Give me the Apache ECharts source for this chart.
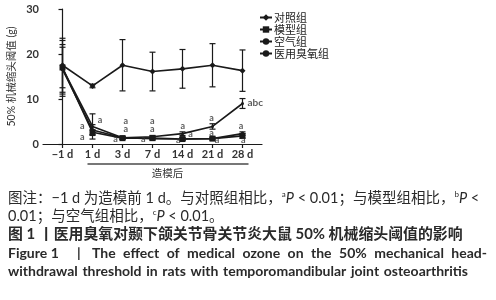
<!DOCTYPE html>
<html><head><meta charset="utf-8">
<script src="https://cdn.jsdelivr.net/npm/echarts@6/dist/echarts.min.js"></script>
<style>html,body{margin:0;padding:0;background:#fff}#c{width:496px;height:300px}</style>
</head><body><div id="c"></div>
<script>
// ---- data ----
const categories = ['\u22121 d', '1 d', '3 d', '7 d', '14 d', '21 d', '28 d'];
const seriesNames = ['对照组', '模型组', '空气组', '医用臭氧组'];
const control = [17.5, 12.9, 17.5, 16.1, 16.7, 17.5, 16.3];
const controlErr = [6.0, 0.4, 5.7, 4.3, 4.3, 4.8, 4.6];
const model = [17.0, 2.6, 1.3, 1.3, 1.1, 1.2, 1.8];
const modelErr = [4.5, 0.5, 0.3, 0.3, 0.3, 0.3, 0.5];
const air = [16.6, 3.1, 1.4, 1.2, 1.1, 1.2, 2.3];
const airErr = [5.5, 1.2, 0.3, 0.3, 0.3, 0.3, 0.4];
const ozone = [16.8, 3.9, 1.4, 1.6, 2.3, 3.9, 9.0];
const ozoneErr = [6.2, 2.8, 0.3, 0.3, 0.4, 0.6, 1.1];
const yTicks = [0, 10, 20, 30];
// significance letters: position in (category index, value) and text
const annotX = [0.66, 0.66, 1.25, 2.11, 2.11, 1.77, 2.99, 2.99, 2.69, 4.01, 4.27, 3.86, 4.97, 4.97, 5.15, 5.95, 6.03];
const annotY = [4.07, 1.49, 5.33, 5.18, 3.33, 1.04, 5.18, 3.33, 1.04, 4.07, 2.16, 0.78, 5.84, 2.44, 0.78, 4.07, 0.89];
const annotText = ['a','a','a','a','a','a','a','a','a','a','a','a','a','a','a','a','a'];
const abcX = 6.15, abcY = 9.22, abcText = 'abc';
const xAxisTitle = '造模后';
const yAxisTitle = '50% 机械缩头阈值 (g)';

const chart = echarts.init(document.getElementById('c'), null, {renderer: 'canvas'});
const INK = '#1a1a1a';
const LAT = 'Lato, "Noto Sans CJK SC", sans-serif';

function errData(mean, err) {
  return mean.map((m, i) => [i, m - err[i], m + err[i]]);
}
function errSeries(mean, err) {
  return {
    type: 'custom', silent: true, z: 1,
    data: errData(mean, err),
    renderItem: function (params, api) {
      const x = api.value(0);
      const lo = api.coord([x, api.value(1)]);
      const hi = api.coord([x, api.value(2)]);
      const st = {stroke: INK, lineWidth: 1.2};
      return {type: 'group', children: [
        {type: 'line', shape: {x1: lo[0], y1: lo[1], x2: hi[0], y2: hi[1]}, style: st},
        {type: 'line', shape: {x1: lo[0] - 3, y1: lo[1], x2: lo[0] + 3, y2: lo[1]}, style: st},
        {type: 'line', shape: {x1: hi[0] - 3, y1: hi[1], x2: hi[0] + 3, y2: hi[1]}, style: st}
      ]};
    }
  };
}
function lineSeries(name, vals, symbol, size) {
  return {
    name: name, type: 'line', z: 3,
    data: vals.map((v, i) => [i, v]),
    symbol: symbol, symbolSize: size,
    lineStyle: {color: INK, width: 1.6},
    itemStyle: {color: INK},
    emphasis: {disabled: true}
  };
}

const annotData = annotX.map((x, i) => ({value: [x, annotY[i]], label: {formatter: annotText[i]}}));

const option = {
  animation: false,
  grid: {left: 43, right: 234, top: 9, bottom: 156, containLabel: false},
  legend: {
    orient: 'vertical', left: 254, top: 7, itemGap: 1,
    itemWidth: 12, itemHeight: 8,
    data: seriesNames,
    textStyle: {fontSize: 11, color: '#222', fontFamily: '"Noto Sans CJK SC", serif', padding: [0, 0, 0, -3]}
  },
  xAxis: {
    type: 'value', min: -0.65, max: 6.65,
    axisLine: {show: true, lineStyle: {color: INK, width: 1.2}},
    axisTick: {show: true, customValues: [0, 1, 2, 3, 4, 5, 6], length: 4, lineStyle: {color: INK, width: 1.2}},
    axisLabel: {customValues: [0, 1, 2, 3, 4, 5, 6], formatter: v => categories[Math.round(v)],
      fontSize: 11, fontWeight: 'bold', color: '#333', fontFamily: LAT, margin: 5},
    splitLine: {show: false}
  },
  yAxis: {
    type: 'value', min: 0, max: 30, interval: 10,
    name: yAxisTitle, nameLocation: 'middle', nameGap: 26, nameRotate: 90,
    nameTextStyle: {fontSize: 10.5, color: '#333', fontFamily: LAT},
    axisLine: {show: true, lineStyle: {color: INK, width: 1.2}},
    axisTick: {show: true, length: 4, lineStyle: {color: INK, width: 1.2}},
    axisLabel: {fontSize: 11, fontWeight: 'bold', color: '#333', fontFamily: LAT, margin: 4,
      formatter: v => (yTicks.indexOf(v) >= 0 ? String(v) : '')},
    splitLine: {show: false}
  },
  series: [
    errSeries(control, controlErr),
    errSeries(model, modelErr),
    errSeries(air, airErr),
    errSeries(ozone, ozoneErr),
    lineSeries(seriesNames[0], control, 'diamond', 6),
    lineSeries(seriesNames[1], model, 'rect', 6),
    lineSeries(seriesNames[2], air, 'circle', 4),
    lineSeries(seriesNames[3], ozone, 'circle', 3),
    {
      type: 'scatter', z: 5, silent: true, symbolSize: 1, itemStyle: {color: 'rgba(0,0,0,0)'},
      data: annotData,
      label: {show: true, position: 'inside', fontSize: 9, fontWeight: 'bold', color: '#333', fontFamily: LAT}
    },
    {
      type: 'scatter', z: 5, silent: true, symbolSize: 1, itemStyle: {color: 'rgba(0,0,0,0)'},
      data: [{value: [abcX, abcY]}],
      label: {show: true, position: 'right', distance: 0, formatter: abcText, fontSize: 10, fontWeight: 'bold', color: '#333', fontFamily: LAT}
    }
  ]
};
chart.setOption(option);

// bracket under "1 d" .. "28 d", placed from the axis scale
const p1 = chart.convertToPixel({gridIndex: 0}, [1, 0]);
const p6 = chart.convertToPixel({gridIndex: 0}, [6, 0]);

// caption helpers
const FILL = '#2a2a2a';
const mctx = document.createElement('canvas').getContext('2d');
function measure(txt, size, weight) {
  mctx.font = (weight || 'normal') + ' ' + size + 'px ' + LAT;
  return mctx.measureText(txt).width;
}
// justify words between x0 and x1
function justified(words, x0, x1, y, size, weight) {
  const widths = words.map(w => measure(w, size, weight));
  const total = widths.reduce((a, b) => a + b, 0);
  const gap = (x1 - x0 - total) / (words.length - 1);
  let x = x0;
  return words.map((w, k) => {
    const el = {type: 'text', x: x, y: y, style: {text: w, fontSize: size, fontWeight: weight || 'normal',
      fill: FILL, fontFamily: LAT, verticalAlign: 'middle'}};
    x += widths[k] + gap;
    return el;
  });
}
const rich = {
  s: {fontSize: 8, verticalAlign: 'top', fontFamily: LAT, fill: FILL, padding: [0, 0, 7, 0]},
  i: {fontStyle: 'italic', fontSize: 14.5, fontFamily: LAT, fill: FILL}
};
const capCN = {fontSize: 14.5, fill: FILL, fontFamily: LAT, verticalAlign: 'middle'};

const graphics = [
  {type: 'line', shape: {x1: p1[0] - 5, y1: p1[1] + 20, x2: p6[0] + 6, y2: p1[1] + 20},
    style: {stroke: '#777', lineWidth: 2}},
  {type: 'text', x: (p1[0] + p6[0]) / 2, y: p1[1] + 30,
    style: {text: xAxisTitle, fontSize: 10.5, fill: '#333', fontFamily: LAT, align: 'center', verticalAlign: 'middle'}},
  {type: 'text', x: 8, y: 198, style: Object.assign({}, capCN, {rich: rich,
    text: '图注：\u22121 d 为造模前 1 d。与对照组相比，{s|a}{i|P} < 0.01；与模型组相比，{s|b}{i|P} <'})},
  {type: 'text', x: 8, y: 216, style: Object.assign({}, capCN, {rich: rich,
    text: '0.01；与空气组相比，{s|c}{i|P} < 0.01。'})},
  {type: 'text', x: 8, y: 234, style: Object.assign({}, capCN, {fontWeight: 'bold', fontSize: 14.9,
    text: '图 1 丨医用臭氧对颞下颌关节骨关节炎大鼠 50% 机械缩头阈值的影响'})}
];
const line4 = ['Figure', '1', '|', 'The', 'effect', 'of', 'medical', 'ozone', 'on', 'the', '50%', 'mechanical', 'head-'];
// "Figure 1" and "|" have fixed positions; the rest is justified to the right margin
graphics.push({type: 'text', x: 8, y: 253, style: {text: 'Figure 1', fontSize: 14, fontWeight: 'bold', fill: FILL, fontFamily: LAT, verticalAlign: 'middle'}});
graphics.push({type: 'text', x: 77, y: 253, style: {text: '|', fontSize: 14, fontWeight: 'bold', fill: FILL, fontFamily: LAT, verticalAlign: 'middle'}});
justified(line4.slice(3), 92, 487, 253, 14, 'bold').forEach(g => graphics.push(g));
justified('withdrawal threshold in rats with temporomandibular joint osteoarthritis'.split(' '), 8, 468, 271, 14, 'bold')
  .forEach(g => graphics.push(g));

chart.setOption({graphic: graphics});
</script></body></html>
